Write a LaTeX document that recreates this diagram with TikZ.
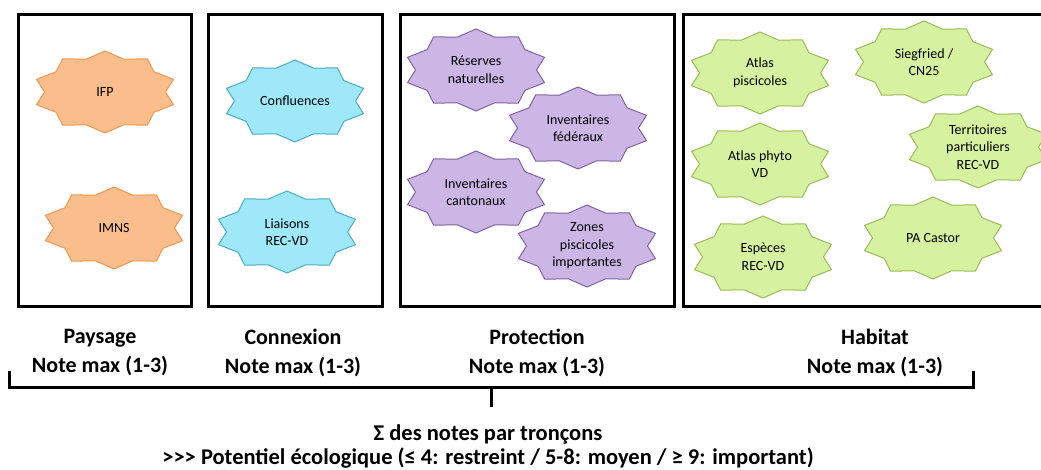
\documentclass[tikz,border=0pt]{standalone}
\usepackage{fontspec}
\setmainfont{Carlito}
\definecolor{orangefill}{RGB}{250,190,140}
\definecolor{orangeline}{RGB}{240,150,80}
\definecolor{cyanfill}{RGB}{158,232,250}
\definecolor{cyanline}{RGB}{75,172,198}
\definecolor{lilacfill}{RGB}{204,182,230}
\definecolor{lilacline}{RGB}{128,100,162}
\definecolor{greenfill}{RGB}{214,242,160}
\definecolor{greenline}{RGB}{155,187,89}
\tikzset{
	bigbox/.style = {line width = 3pt},
	bracket/.style = {line width = 3pt},
	paysagestar/.style = {fill = orangefill, draw = orangeline, line width = 1pt},
	connexionstar/.style = {fill = cyanfill, draw = cyanline, line width = 1pt},
	protectionstar/.style = {fill = lilacfill, draw = lilacline, line width = 1pt},
	habitatstar/.style = {fill = greenfill, draw = greenline, line width = 1pt},
	startext/.style = {align = center, font = \fontsize{14}{17.5}\selectfont},
	headtext/.style = {align = center, font = \fontsize{22}{29}\selectfont\bfseries},
	sumtext/.style = {align = center, font = \fontsize{22.5}{24}\selectfont\bfseries}
}
\newcommand{\burst}[5]{%
	\filldraw[#4] (#2, #3) +(90:72 and 41) \foreach \a in {90, 126, ..., 414} {-- +(\a + 18:60.5 and 34.5) -- +(\a + 36:72 and 41)} -- cycle;
	\node[startext] (#1) at (#2, #3) {#5};
}
\begin{document}
\begin{tikzpicture}[x = 1pt, y = -1pt]
	\useasboundingbox (0, 0) rectangle (1041, 470);
		\draw[bigbox] (18, 15) rectangle (191, 306);
		\draw[bigbox] (208, 15) rectangle (382, 306);
		\draw[bigbox] (400, 15) rectangle (674, 306);
		\draw[bigbox] (683, 15) rectangle (1070, 306);
	\burst{ifp}{105}{92}{paysagestar}{IFP}
	\burst{imns}{114}{228}{paysagestar}{IMNS}
	\burst{confluences}{295}{101}{connexionstar}{Confluences}
	\burst{liaisons}{287}{232}{connexionstar}{Liaisons\\REC-VD}
	\burst{reserves}{476}{70}{protectionstar}{Réserves\\naturelles}
	\burst{invfed}{578}{128}{protectionstar}{Inventaires\\fédéraux}
	\burst{invcant}{476}{192}{protectionstar}{Inventaires\\cantonaux}
	\burst{zones}{587}{246}{protectionstar}{Zones\\piscicoles\\importantes}
	\burst{atlaspisc}{760}{73}{habitatstar}{Atlas\\piscicoles}
	\burst{siegfried}{924}{62}{habitatstar}{Siegfried /\\CN25}
	\burst{atlasphyto}{760}{164}{habitatstar}{Atlas phyto\\VD}
	\burst{territoires}{978}{147}{habitatstar}{Territoires\\particuliers\\REC-VD}
	\burst{especes}{763}{257}{habitatstar}{Espèces\\REC-VD}
	\burst{castor}{933}{238}{habitatstar}{PA Castor}
	\node[headtext] (paysage) at (100, 353) {Paysage\\Note max (1-3)};
	\node[headtext] (connexion) at (293, 353) {Connexion\\Note max (1-3)};
	\node[headtext] (protection) at (537, 353) {Protection\\Note max (1-3)};
	\node[headtext] (habitat) at (875, 353) {Habitat\\Note max (1-3)};
		\coordinate (bracel) at (9, 371);
		\coordinate (bracer) at (973, 371);
		\coordinate (bracem) at (491, 387);
		\coordinate (tick) at (491, 407);
		\draw[bracket] (bracel) |- (bracem) -| (bracer);
		\draw[bracket] (bracem) -- (tick);
	\node[sumtext] (sum) at (488, 447) {Σ des notes par tronçons\\>{}>{}> Potentiel écologique (≤ 4: restreint / 5-8: moyen / ≥ 9: important)};
\end{tikzpicture}
\end{document}
